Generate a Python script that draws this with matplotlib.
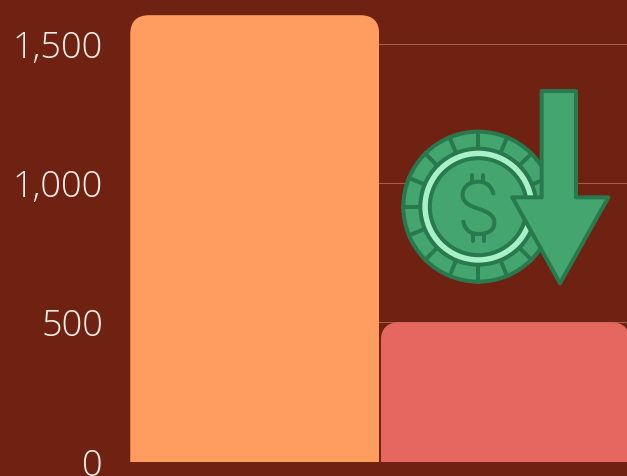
import numpy as np
import matplotlib
matplotlib.use('Agg')
import matplotlib.pyplot as plt
from matplotlib.patches import Circle, Polygon, PathPatch, FancyBboxPatch
from matplotlib.path import Path

categories = ['A', 'B']
values = [1602, 500]
bar_colors = ['#ff9c5f', '#e56760']
y_ticks = [0, 500, 1000, 1500]
y_labels = ['0', '500', '1,000', '1,500']

W, H = 627, 476
BG = '#702212'
GREEN = '#44a56e'
DARK = '#287a4e'
LIGHT = '#a8f0c8'

plt.rcParams['font.family'] = ['Open Sans', 'DejaVu Sans']

fig = plt.figure(figsize=(W / 100, H / 100), dpi=100, facecolor=BG)
# y=0 sits at pixel 461.5, 500 units are about 139.3 px
ax = fig.add_axes([129.5 / W, (H - 461.5) / H, 501 / W, 461.5 / H], facecolor=BG)
ax.set_xlim(-0.5, 1.5)
ax.set_ylim(0, 461.5 / 139.3 * 500)

bars = ax.bar(range(len(values)), values, width=0.994, color=bar_colors, zorder=3)

# rounded top corners, bottom of the clip box hangs under the axis
fig.canvas.draw()
for b in bars:
    (x0, y0), (x1, y1) = ax.transData.transform([(b.get_x(), 0), (b.get_x() + b.get_width(), b.get_height())])
    r = 19
    clip = FancyBboxPatch((x0 + r, y0 - 2 * r), x1 - x0 - 2 * r, y1 - y0 + r,
                          boxstyle='round,pad=%d,rounding_size=%d' % (r, r), transform=None)
    b.set_clip_path(clip)

ax.set_xticks([])
ax.set_yticks(y_ticks)
ax.set_yticklabels(y_labels, fontsize=26, fontweight='light', color='#fbf0ea')
ax.tick_params(axis='y', length=0, pad=19)
# grid only shows right of the first bar
ax.hlines(y_ticks[1:], 0, 1.5, color='#a5604a', linewidth=0.75, zorder=1)
for s in ax.spines.values():
    s.set_visible(False)
for t in ax.get_yticklabels():
    t.set_clip_on(False)

# icon layer in pixel coordinates
ic = fig.add_axes([0, 0, 1, 1], facecolor='none')
ic.set_xlim(0, W)
ic.set_ylim(H, 0)
ic.axis('off')


def pt(zx, zy):
    return (390 + zx / 3, 80 + zy / 3)


lw = 2.9
cx, cy = pt(265, 380)
ic.add_patch(Circle((cx, cy), 75, fc=GREEN, ec=DARK, lw=lw, zorder=5))
for a in np.arange(0, 360, 22.5):
    c, s = np.cos(np.radians(a)), np.sin(np.radians(a))
    ic.plot([cx + 58 * c, cx + 75 * c], [cy + 58 * s, cy + 75 * s], color=DARK, lw=lw, zorder=5)
ic.add_patch(Circle((cx, cy), 58, fc=LIGHT, ec=DARK, lw=lw, zorder=5))
ic.add_patch(Circle((cx, cy), 48.5, fc=GREEN, ec=DARK, lw=lw, zorder=5))

# dollar sign of the icon
s_verts = [pt(*p) for p in [(310, 340), (303, 315), (285, 305), (265, 305),
                            (238, 305), (218, 320), (218, 345),
                            (218, 368), (240, 378), (265, 386),
                            (292, 395), (313, 405), (313, 428),
                            (313, 452), (292, 462), (265, 462),
                            (242, 462), (225, 450), (220, 425)]]
s_codes = [Path.MOVETO] + [Path.CURVE4] * 18
ic.add_patch(PathPatch(Path(s_verts, s_codes), fc='none', ec=DARK, lw=lw, capstyle='round', zorder=5))
for (a, b, c, d) in [(247, 285, 247, 305), (279, 285, 279, 305), (249, 462, 249, 482), (283, 462, 283, 482)]:
    p0, p1 = pt(a, b), pt(c, d)
    ic.plot([p0[0], p1[0]], [p0[1], p1[1]], color=DARK, lw=lw, solid_capstyle='round', zorder=5)

arrow = [pt(*p) for p in [(455, 33), (558, 33), (558, 352), (655, 352), (510, 610), (367, 352), (455, 352)]]
ic.add_patch(Polygon(arrow, closed=True, fc=GREEN, ec=DARK, lw=lw, joinstyle='round', zorder=6))

fig.savefig('out.png', dpi=100, facecolor=BG)
